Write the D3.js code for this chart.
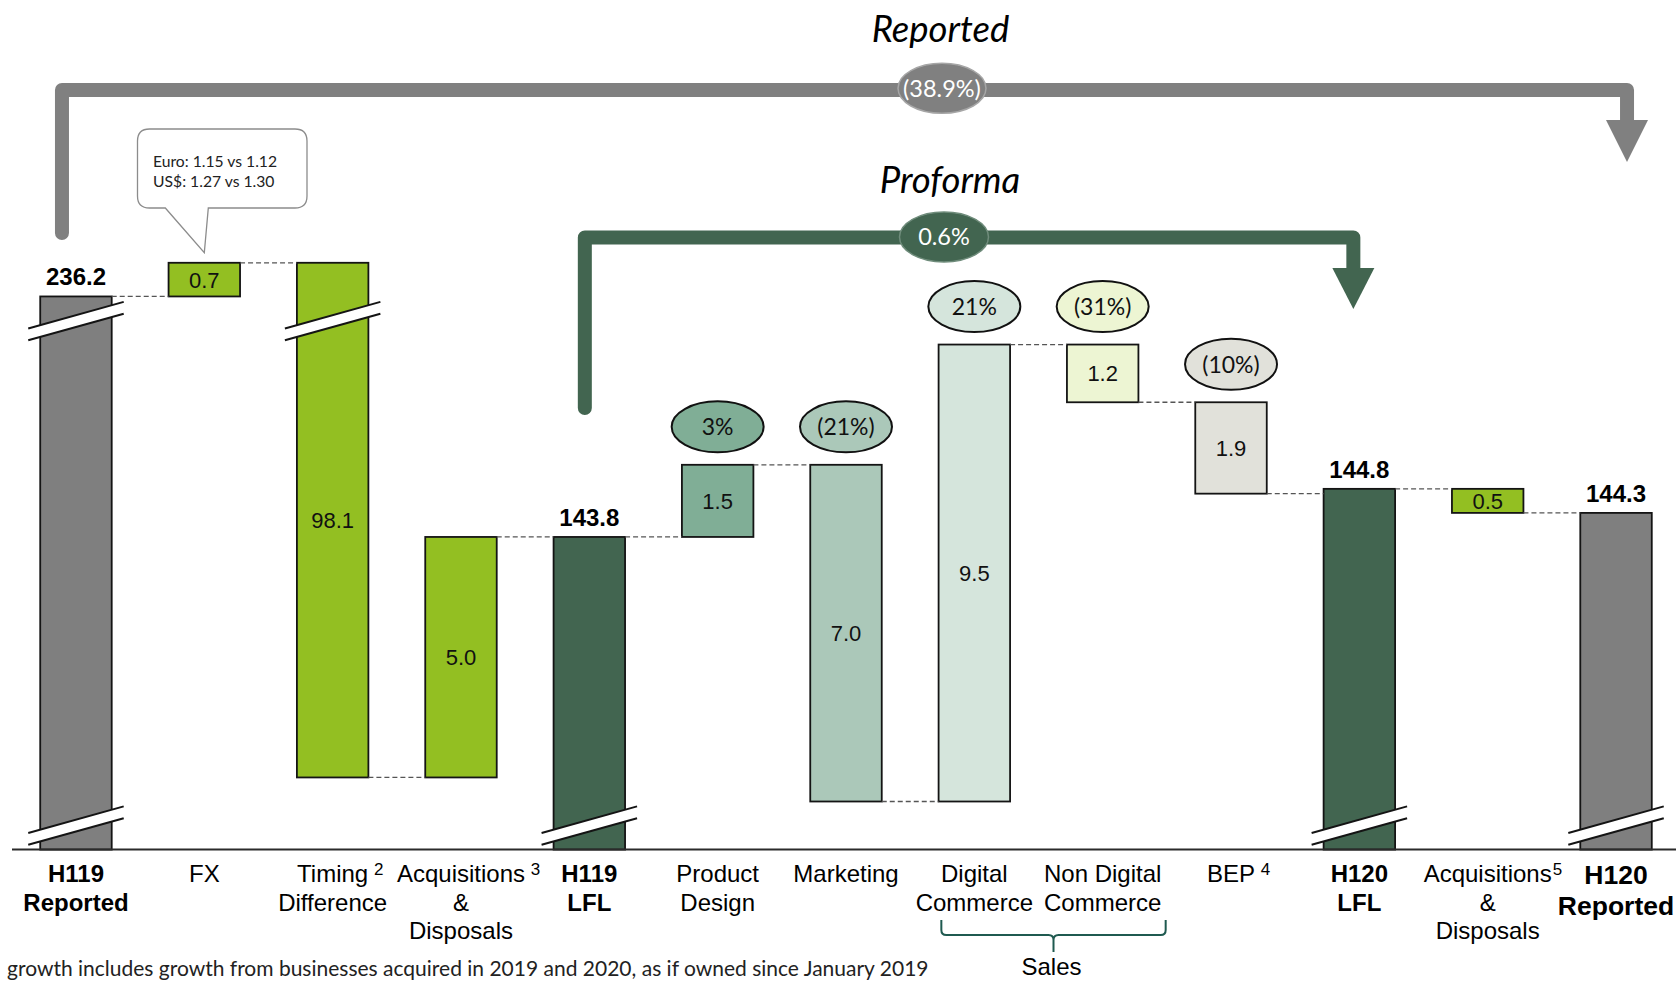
<!DOCTYPE html>
<html>
<head>
<meta charset="utf-8">
<script src="https://cdn.jsdelivr.net/npm/d3@7"></script>
<style>
  html, body { margin: 0; padding: 0; background: #fff; }
  svg { display: block; }
  .sans { font-family: "Liberation Sans", Arial, sans-serif; }
  .lato { font-family: Lato, "Open Sans", sans-serif; }
</style>
</head>
<body>
<svg id="chart" width="1676" height="981"></svg>
<script>
// ---- Data -------------------------------------------------------------
const categories = [
  "H119 Reported", "FX", "Timing Difference", "Acquisitions & Disposals",
  "H119 LFL", "Product Design", "Marketing", "Digital Commerce",
  "Non Digital Commerce", "BEP", "H120 LFL", "Acquisitions & Disposals H120",
  "H120 Reported"
];
// signed change for steps, level for totals (£m)
const values = [236.2, 0.7, -98.1, 5.0, 143.8, 1.5, -7.0, 9.5, -1.2, -1.9, 144.8, -0.5, 144.3];
const isTotal = [true, false, false, false, true, false, false, false, false, false, true, false, true];
const growthLabels = [null, null, null, null, null, "3%", "(21%)", "21%", "(31%)", "(10%)", null, null, null];
const tickLines = [
  ["H119", "Reported"], ["FX"], ["Timing", "Difference"], ["Acquisitions", "&", "Disposals"],
  ["H119", "LFL"], ["Product", "Design"], ["Marketing"], ["Digital", "Commerce"],
  ["Non Digital", "Commerce"], ["BEP"], ["H120", "LFL"], ["Acquisitions", "&", "Disposals"],
  ["H120", "Reported"]
];
const noteMarks = ["", "", " 2", " 3", "", "", "", "", "", " 4", "", "5", ""];
const fills = [
  "#7f7f7f", "#93bf22", "#93bf22", "#93bf22", "#426550", "#80ae96", "#abc8b9",
  "#d5e5dc", "#edf5d3", "#e1e1da", "#426550", "#93bf22", "#7f7f7f"
];
const reportedGrowth = "(38.9%)";
const proformaGrowth = "0.6%";
const fxNotes = ["Euro: 1.15 vs 1.12", "US$: 1.27 vs 1.30"];
const footnote = "growth includes growth from businesses acquired in 2019 and 2020, as if owned since January 2019";

// ---- Waterfall levels -------------------------------------------------
let running = 0;
const bars = categories.map((c, i) => {
  const v = values[i];
  let start, end;
  if (isTotal[i]) { start = 0; end = v; }
  else { start = running; end = running + v; }
  running = end;
  return { c, i, v, start, end, lo: Math.min(start, end), hi: Math.max(start, end), total: isTotal[i] };
});

// ---- Scales -----------------------------------------------------------
const svg = d3.select("#chart");
const W = 1676;

const x = d3.scaleBand()
  .domain(categories)
  .range([11.8, 1680.2])
  .paddingInner(0.443)
  .paddingOuter(0.2215);
const bw = x.bandwidth();
const cx = i => x(categories[i]) + bw / 2;

// broken value axis: the 0–137.3 and 148.6–236.0 stretches are cut out
const pxPerUnit = 48.1;
const axisY = 849.6;
const lowCut = 137.3, breakLo = 148.6, breakHi = 236.0, topVal = 238;
const yBreak = axisY - (breakLo - lowCut) * pxPerUnit;
const y = d3.scaleLinear()
  .domain([0, lowCut, breakLo, breakHi, topVal])
  .range([axisY, axisY, yBreak, yBreak, yBreak - (topVal - breakHi) * pxPerUnit]);

// ---- Bars -------------------------------------------------------------
const gBars = svg.append("g");
gBars.selectAll("rect.bar")
  .data(bars)
  .join("rect")
  .attr("class", "bar")
  .attr("x", d => x(d.c))
  .attr("y", d => y(d.hi))
  .attr("width", bw)
  .attr("height", d => y(d.lo) - y(d.hi))
  .attr("fill", (d, i) => fills[i])
  .attr("stroke", "#141414")
  .attr("stroke-width", 1.8);

// connectors between consecutive bars
const gConn = svg.append("g");
bars.slice(0, -1).forEach((d, i) => {
  const lvl = d.end;
  gConn.append("line")
    .attr("x1", x(d.c) + bw)
    .attr("x2", x(categories[i + 1]))
    .attr("y1", y(lvl)).attr("y2", y(lvl))
    .attr("stroke", "#555")
    .attr("stroke-width", 1.3)
    .attr("stroke-dasharray", "5,3");
});

// axis baseline
svg.append("line")
  .attr("x1", 12).attr("x2", W)
  .attr("y1", y(0)).attr("y2", y(0))
  .attr("stroke", "#2b2b2b").attr("stroke-width", 2);

// break marks
function breakMark(i, cy) {
  const c = cx(i), half = bw / 2 + 12, rise = 13.3, gap = 5.9;
  const g = svg.append("g");
  g.append("polygon")
    .attr("points", [
      [c - half, cy + rise - gap], [c + half, cy - rise - gap],
      [c + half, cy - rise + gap], [c - half, cy + rise + gap]
    ].map(p => p.join(",")).join(" "))
    .attr("fill", "#fff");
  [-gap, gap].forEach(o => {
    g.append("line")
      .attr("x1", c - half).attr("y1", cy + rise + o)
      .attr("x2", c + half).attr("y2", cy - rise + o)
      .attr("stroke", "#141414").attr("stroke-width", 2);
  });
}
bars.forEach((d, i) => {
  if (d.total) breakMark(i, y(0) - 24);
  if (d.hi > breakHi && d.lo < breakLo) breakMark(i, yBreak + 15);
});

// ---- Value labels -----------------------------------------------------
const gLab = svg.append("g").attr("class", "sans");
bars.forEach((d, i) => {
  if (d.total) {
    gLab.append("text")
      .attr("x", cx(i)).attr("y", y(d.hi) - 11)
      .attr("text-anchor", "middle")
      .attr("font-size", 24).attr("font-weight", "bold")
      .attr("fill", "#000")
      .text(d.v.toFixed(1));
  } else {
    gLab.append("text")
      .attr("x", cx(i)).attr("y", (y(d.hi) + y(d.lo)) / 2)
      .attr("dy", "0.36em")
      .attr("text-anchor", "middle")
      .attr("font-size", 22)
      .attr("fill", "#111")
      .text(Math.abs(d.v).toFixed(1));
  }
});

// growth ellipses above the LFL drivers
const gEll = svg.append("g");
bars.forEach((d, i) => {
  if (!growthLabels[i]) return;
  const ey = y(d.hi) - 38;
  gEll.append("ellipse")
    .attr("cx", cx(i)).attr("cy", ey)
    .attr("rx", 46).attr("ry", 25.5)
    .attr("fill", fills[i])
    .attr("stroke", "#111").attr("stroke-width", 2);
  gEll.append("text")
    .attr("class", "lato")
    .attr("x", cx(i)).attr("y", ey)
    .attr("dy", "0.36em")
    .attr("text-anchor", "middle")
    .attr("font-size", 23)
    .attr("fill", "#111")
    .text(growthLabels[i]);
});

// ---- Category labels --------------------------------------------------
const gTick = svg.append("g").attr("class", "sans");
tickLines.forEach((lines, i) => {
  const big = i === categories.length - 1;
  const fs = big ? 26.5 : 24;
  const lh = big ? 31 : 28.5;
  const y0 = big ? 884 : 882;
  lines.forEach((ln, j) => {
    const t = gTick.append("text")
      .attr("x", cx(i)).attr("y", y0 + j * lh)
      .attr("text-anchor", "middle")
      .attr("font-size", fs)
      .attr("font-weight", isTotal[i] ? "bold" : "normal")
      .attr("fill", "#000")
      .text(ln);
    if (j === 0 && noteMarks[i]) {
      const len = t.node().getComputedTextLength();
      gTick.append("text")
        .attr("x", cx(i) + len / 2 + 1)
        .attr("y", y0 - 7)
        .attr("font-size", 17)
        .attr("fill", "#000")
        .style("white-space", "pre")
        .text(noteMarks[i]);
    }
  });
});

// Sales brace under the two commerce categories
{
  const l = cx(7) - 33, r = cx(8) + 63, m = (l + r) / 2;
  const top = 920, mid = 935, tip = 952;
  svg.append("path")
    .attr("d",
      `M${l},${top} V${mid - 5} Q${l},${mid} ${l + 5},${mid} H${m - 5} Q${m},${mid} ${m},${mid + 5} V${tip}` +
      ` M${m},${mid + 5} Q${m},${mid} ${m + 5},${mid} H${r - 5} Q${r},${mid} ${r},${mid - 5} V${top}`)
    .attr("fill", "none")
    .attr("stroke", "#1f5a50").attr("stroke-width", 2);
  svg.append("text").attr("class", "sans")
    .attr("x", m - 2).attr("y", 975)
    .attr("text-anchor", "middle")
    .attr("font-size", 24).attr("fill", "#000")
    .text("Sales");
}

// ---- Growth brackets --------------------------------------------------
function bracket(xl, yl, yTop, xr, yArrow, tipY, color) {
  svg.append("path")
    .attr("d", `M${xl},${yl} V${yTop} H${xr} V${yArrow + 2}`)
    .attr("fill", "none")
    .attr("stroke", color).attr("stroke-width", 14)
    .attr("stroke-linecap", "round").attr("stroke-linejoin", "round");
  svg.append("polygon")
    .attr("points", `${xr - 21},${yArrow} ${xr + 21},${yArrow} ${xr},${tipY}`)
    .attr("fill", color);
}
bracket(cx(0) - 14, 233, 90, cx(12) + 11, 120, 162, "#808080");
bracket(cx(4) - 4.5, 408, 237.5, cx(10) - 6, 268, 309, "#426550");

function badge(bx, by, rx, fill, edge, label) {
  svg.append("ellipse")
    .attr("cx", bx).attr("cy", by).attr("rx", rx).attr("ry", 25)
    .attr("fill", fill).attr("stroke", edge).attr("stroke-width", 1.5);
  svg.append("text").attr("class", "lato")
    .attr("x", bx).attr("y", by).attr("dy", "0.36em")
    .attr("text-anchor", "middle")
    .attr("font-size", 23.5).attr("fill", "#fff")
    .text(label);
}
badge(942, 88.3, 44, "#808080", "#a6a6a6", reportedGrowth);
badge(944, 237, 44.5, "#426550", "#6f8c7b", proformaGrowth);

svg.append("text").attr("class", "lato")
  .attr("x", 940.5).attr("y", 42)
  .attr("text-anchor", "middle")
  .attr("font-size", 36.5).attr("font-style", "italic").attr("fill", "#000")
  .text("Reported");
svg.append("text").attr("class", "lato")
  .attr("x", 950).attr("y", 193)
  .attr("text-anchor", "middle")
  .attr("font-size", 36.5).attr("font-style", "italic").attr("fill", "#000")
  .text("Proforma");

// ---- FX callout -------------------------------------------------------
{
  const bx0 = 137.5, by0 = 129, bx1 = 307, by1 = 208, r = 12;
  const tx = cx(1), ty = y(bars[1].hi) - 10;
  svg.append("path")
    .attr("d",
      `M${bx0 + r},${by0} H${bx1 - r} Q${bx1},${by0} ${bx1},${by0 + r} V${by1 - r}` +
      ` Q${bx1},${by1} ${bx1 - r},${by1} H${tx + 4} L${tx},${ty} L${tx - 39},${by1}` +
      ` H${bx0 + r} Q${bx0},${by1} ${bx0},${by1 - r} V${by0 + r} Q${bx0},${by0} ${bx0 + r},${by0} Z`)
    .attr("fill", "#fff")
    .attr("stroke", "#8c8c8c").attr("stroke-width", 1.3);
  fxNotes.forEach((t, j) => {
    svg.append("text").attr("class", "lato")
      .attr("x", 153).attr("y", 167 + j * 20)
      .attr("font-size", 15.7).attr("fill", "#222")
      .text(t);
  });
}

// ---- Footnote ---------------------------------------------------------
svg.append("text").attr("class", "lato")
  .attr("x", 7).attr("y", 976)
  .attr("font-size", 21).attr("fill", "#222")
  .text(footnote);
</script>
</body>
</html>
